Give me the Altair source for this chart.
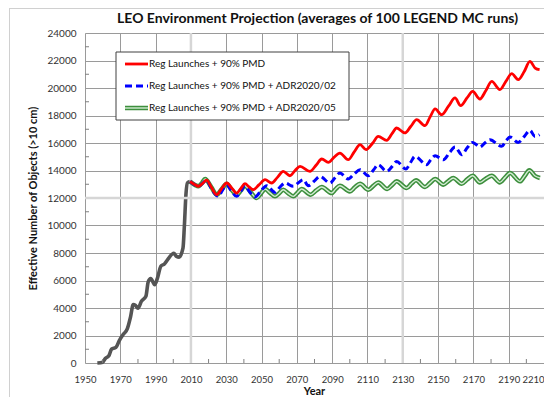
import altair as alt
import pandas as pd

# ---------------- data ----------------
hist_years = [1957, 1960, 1961.5, 1963.5, 1965, 1967.5, 1969.5, 1971.5, 1974, 1975.8,
              1977.3, 1978.5, 1980, 1982, 1984.5, 1985.8, 1987.2, 1989.5, 1991, 1993,
              1995, 1997, 2000.3, 2001.8, 2003.3, 2005.5, 2006.3, 2007.2, 2008, 2009.5]
hist_vals = [0, 60, 330, 520, 1000, 1130, 1650, 2050, 2500, 3350,
             4250, 4200, 3980, 4500, 4850, 5900, 6150, 5700, 6150, 7050,
             7200, 7550, 7980, 7750, 7700, 8350, 10000, 12300, 13100, 13200]

red_years = [2009.5, 2012.3, 2014.2, 2016.5, 2018.9, 2021.5, 2024.6, 2027.5, 2030.3, 2033,
             2035.9, 2038.3, 2040.6, 2043, 2045.3, 2048.5, 2052, 2055.7, 2059, 2062.3,
             2066.1, 2069, 2071.8, 2077.4, 2081, 2084.1, 2087.8, 2091, 2094.4, 2099.1,
             2102.5, 2105.8, 2109.2, 2113, 2116.1, 2120.9, 2124, 2126.5, 2131.2, 2134.5,
             2137.9, 2142.6, 2145.5, 2148.3, 2152, 2156, 2159.6, 2162.8, 2166.5, 2169.6,
             2173.7, 2177, 2180.4, 2185, 2188.5, 2191.7, 2195.4, 2198.8, 2202, 2205, 2207.5]
red_vals = [13200, 12970, 12850, 13050, 13300, 12800, 12240, 12700, 13090, 12750,
            12360, 12700, 13040, 12800, 12600, 12950, 13330, 13090, 13500, 13935,
            13620, 14000, 14300, 13935, 14400, 14835, 14590, 14950, 15270, 14785,
            15350, 15880, 15515, 16000, 16480, 16190, 16700, 17090, 16730, 17200,
            17695, 17260, 17900, 18475, 18060, 18700, 19275, 18715, 19300, 19755,
            19200, 19800, 20480, 19880, 20500, 21040, 20605, 21200, 21935, 21450, 21330]

blue_years = [2009.5, 2012.3, 2014.2, 2016.5, 2018.9, 2021.5, 2025.5, 2028, 2030.3, 2033,
              2035.9, 2038.3, 2040.6, 2043.5, 2046.3, 2049.5, 2052.9, 2057.6, 2060.5, 2063.3,
              2068, 2070.8, 2073.6, 2076.5, 2080, 2083.1, 2088.8, 2091.5, 2094.4, 2099.1,
              2102.5, 2105.8, 2110.5, 2113.5, 2116.1, 2120.9, 2124, 2126.5, 2131.8, 2134.5,
              2136.9, 2143.5, 2146, 2148.3, 2153, 2156.5, 2159.6, 2163.4, 2166.5, 2169.6,
              2173.7, 2176.5, 2179.4, 2186, 2188.5, 2190.7, 2195.4, 2199, 2202, 2204.9, 2207.5]
blue_vals = [13200, 12950, 12850, 13050, 13300, 12700, 12120, 12600, 12950, 12500,
             12120, 12500, 12895, 12400, 12070, 12500, 12895, 12410, 12800, 13090,
             12850, 13100, 13330, 12895, 13250, 13570, 13090, 13450, 13820, 13380,
             13750, 14060, 13620, 14050, 14420, 13935, 14300, 14660, 14110, 14600,
             15030, 14420, 14800, 15075, 14785, 15300, 15710, 15150, 15650, 16045,
             15710, 16000, 16240, 15755, 16150, 16435, 16045, 16500, 16920, 16480, 16600]

green_years = [2009.5, 2012.3, 2014.2, 2016.3, 2018, 2021.5, 2024.6, 2027.5, 2030.3, 2033,
               2036, 2038.3, 2040.6, 2044, 2047.2, 2049.5, 2052, 2055, 2057.6, 2060,
               2062.3, 2065, 2068, 2070.5, 2072.7, 2077.8, 2081, 2084.1, 2089.7, 2092,
               2094.4, 2100, 2103, 2105.8, 2110.5, 2113.5, 2116.1, 2121.2, 2124, 2126.5,
               2132.2, 2135, 2137.5, 2142.6, 2145.5, 2148.3, 2153, 2156, 2158.6, 2163.4,
               2166.5, 2169.6, 2173.7, 2177, 2180.4, 2185, 2188, 2190.7, 2196.4, 2199,
               2201.7, 2205, 2207.7]
green_vals = [13200, 12950, 12850, 13100, 13380, 12800, 12240, 12650, 13040, 12600,
              12240, 12550, 12895, 12400, 12000, 12300, 12655, 12350, 12120, 12350,
              12600, 12350, 12120, 12400, 12655, 12240, 12550, 12800, 12360, 12650,
              12895, 12480, 12800, 13040, 12600, 12900, 13135, 12655, 12950, 13210,
              12730, 13050, 13285, 12800, 13100, 13380, 12970, 13250, 13455, 13040,
              13350, 13620, 13135, 13400, 13620, 13135, 13500, 13820, 13210, 13600,
              14010, 13600, 13455]

x_ticks = list(range(1950, 2211, 20))
y_ticks = list(range(0, 24001, 2000))
minor_x = list(range(1960, 2201, 20))
minor_y = list(range(1000, 24000, 2000))

legend_labels = ["Reg Launches + 90% PMD",
                 "Reg Launches + 90% PMD + ADR2020/02",
                 "Reg Launches + 90% PMD + ADR2020/05"]
title_text = "LEO Environment Projection (averages of 100 LEGEND MC runs)"
y_title = "Effective Number of Objects (>10 cm)"
x_title = "Year"

# ---------------- chart ----------------
FONT = "Lato"
W, H = 459, 330
xs = alt.Scale(domain=[1950, 2210], nice=False, zero=False)
ys = alt.Scale(domain=[0, 24000], nice=False)

x_axis = alt.Axis(values=x_ticks, format="d", title=None, grid=True,
                  gridColor="#9a9a9a", gridWidth=1, labelFlush=False, labelOverlap=False,
                  labelAlign={"condition": {"test": "datum.value == 2210", "value": "right"},
                              "value": "center"},
                  domain=False, ticks=False, labelFont=FONT, labelFontSize=9.5,
                  labelColor="#333333", labelPadding=11)
y_axis = alt.Axis(values=y_ticks, format="d", title=y_title, grid=True,
                  gridColor="#9a9a9a", gridWidth=1, labelFlush=False, labelOverlap=False,
                  domain=False, ticks=False, labelFont=FONT, labelFontSize=10,
                  labelColor="#333333", labelPadding=9, titleFont=FONT,
                  titleFontSize=11, titleFontWeight="bold", titleColor="#111111",
                  titlePadding=8)

X = alt.X("year:Q", scale=xs, axis=x_axis)
Y = alt.Y("val:Q", scale=ys, axis=y_axis)


def frame(years, vals):
    return pd.DataFrame({"year": years, "val": vals})


def line(df, **kw):
    return alt.Chart(df).mark_line(interpolate="monotone", **kw).encode(x=X, y=Y)


hist = line(frame(hist_years, hist_vals), color="#555555", strokeWidth=3.6)
green_df = frame(green_years, green_vals)
green_outer = line(green_df, color="#3d8f3d", strokeWidth=4.5)
green_inner = line(green_df, color="#d3ecd3", strokeWidth=1.4)
blue = line(frame(blue_years, blue_vals), color="#0000ff", strokeWidth=3, strokeDash=[7, 4])
red = line(frame(red_years, red_vals), color="#ff0000", strokeWidth=2.8)

# lighter, wider gridlines seen in the reference (2010, 2130, 12000)
light_x = alt.Chart(pd.DataFrame({"year": [2010, 2130]})).mark_rule(
    color="#d6d6d6", strokeWidth=2.5).encode(x=X)
light_y = alt.Chart(pd.DataFrame({"val": [12000]})).mark_rule(
    color="#d6d6d6", strokeWidth=2.5).encode(y=Y)

# minor inside ticks
mx = alt.Chart(pd.DataFrame({"year": minor_x})).mark_rule(color="#808080").encode(
    x=X, y=alt.value(H), y2=alt.value(H - 4))
my = alt.Chart(pd.DataFrame({"val": minor_y})).mark_rule(color="#808080").encode(
    y=Y, x=alt.value(0), x2=alt.value(4))

# chart-area border (decoration)
one = pd.DataFrame({"a": [0]})
border_l = alt.Chart(one).mark_rule(color="#d0d0d0").encode(
    x=alt.value(-75.5), y=alt.value(-30), y2=alt.value(H + 60))
border_t = alt.Chart(one).mark_rule(color="#d0d0d0").encode(
    x=alt.value(-75.5), x2=alt.value(W + 20), y=alt.value(-24.5))

# chart title and x title as text
title = alt.Chart(one).mark_text(align="center", baseline="middle", font=FONT, fontSize=14,
                                 fontWeight="bold", color="#111111").encode(
    x=alt.value(W / 2 + 3), y=alt.value(-14), text=alt.value(title_text))
xtitle = alt.Chart(one).mark_text(align="center", baseline="bottom", font=FONT, fontSize=11,
                                  fontWeight="bold", color="#111111").encode(
    x=alt.value(W / 2), y=alt.value(H + 34), text=alt.value(x_title))

# manual legend
box = alt.Chart(one).mark_rect(fill="white", stroke="#404040", strokeWidth=1).encode(
    x=alt.value(31), x2=alt.value(264), y=alt.value(19), y2=alt.value(87))
ly = [31, 53, 75]
l_red = alt.Chart(one).mark_rule(color="#ff0000", strokeWidth=2.8).encode(
    x=alt.value(40), x2=alt.value(63), y=alt.value(ly[0]))
l_blue = alt.Chart(one).mark_rule(color="#0000ff", strokeWidth=3, strokeDash=[7, 4]).encode(
    x=alt.value(40), x2=alt.value(63), y=alt.value(ly[1]))
l_g1 = alt.Chart(one).mark_rule(color="#3d8f3d", strokeWidth=4.5).encode(
    x=alt.value(40), x2=alt.value(63), y=alt.value(ly[2]))
l_g2 = alt.Chart(one).mark_rule(color="#d3ecd3", strokeWidth=1.4).encode(
    x=alt.value(40), x2=alt.value(63), y=alt.value(ly[2]))
texts = [alt.Chart(one).mark_text(align="left", baseline="middle", font=FONT, fontSize=10,
                                  color="#111111").encode(
    x=alt.value(64), y=alt.value(ly[i]), text=alt.value(legend_labels[i])) for i in range(3)]

chart = alt.layer(
    hist, light_x, light_y, mx, my, green_outer, green_inner, blue, red,
    border_l, border_t, title, xtitle, box, l_red, l_blue, l_g1, l_g2, *texts
).properties(
    width=W, height=H,
    autosize=alt.AutoSizeParams(type="none"),
    padding={"left": 77, "top": 25, "right": 0, "bottom": 34},
).configure_view(stroke="#7f7f7f", strokeWidth=1).configure(background="white")

chart.save("out.html", embed_options={"renderer": "svg", "actions": False})
